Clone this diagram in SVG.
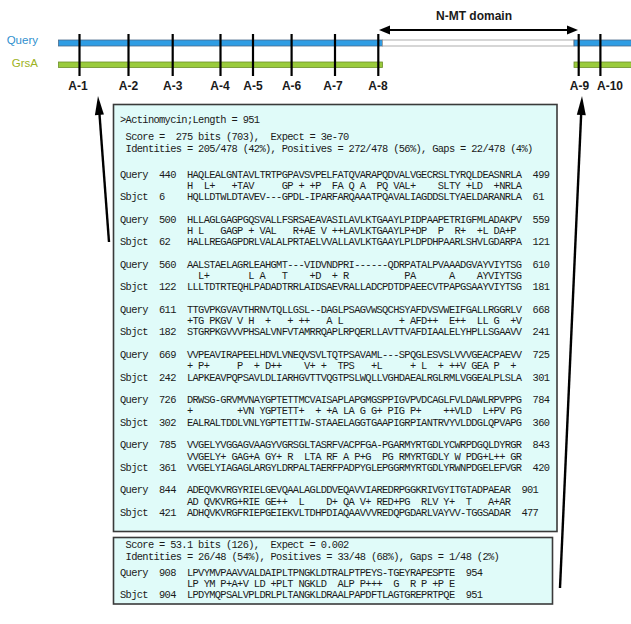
<svg xmlns="http://www.w3.org/2000/svg" width="631" height="624" viewBox="0 0 631 624">
<style>
.mono{font-family:"Liberation Mono","DejaVu Sans Mono",monospace;font-size:10.4px;letter-spacing:-0.66px;fill:#1a1a1a;white-space:pre}
.lbl{font-family:"Liberation Sans",Arial,sans-serif;font-weight:bold;font-size:12px;fill:#1a1a1a;text-anchor:middle}
.tick{stroke:#000;stroke-width:2.2}
.box{fill:#e0fbf9;stroke:#3a3a3a;stroke-width:1.6}
.arr{stroke:#000;stroke-width:2.4;fill:none}
.head{fill:#000}
</style>
<rect width="631" height="624" fill="#fff"/>
<g id="tracks">
  <text x="474" y="20" class="lbl">N-MT domain</text>
  <line x1="386" y1="30" x2="571" y2="30" stroke="#000" stroke-width="2"/>
  <polygon class="head" points="379,30 390,25.5 390,34.5"/>
  <polygon class="head" points="578,30 567,25.5 567,34.5"/>
  <text x="38" y="44" font-family="Liberation Sans,Arial,sans-serif" font-size="11.5" fill="#2f8fce" text-anchor="end">Query</text>
  <text x="38" y="67" font-family="Liberation Sans,Arial,sans-serif" font-size="11.5" fill="#9db322" text-anchor="end">GrsA</text>
  <rect x="58.5" y="40" width="324" height="6" fill="#2f9de4" stroke="#4a6a8a" stroke-width="0.8"/>
  <rect x="382.5" y="40" width="191.5" height="6" fill="#fff" stroke="#999" stroke-width="0.8"/>
  <rect x="574" y="40" width="60" height="6" fill="#2f9de4" stroke="#4a6a8a" stroke-width="0.8"/>
  <rect x="58.5" y="62" width="324" height="5.5" fill="#9acb3c" stroke="#6d8f2a" stroke-width="0.8"/>
  <rect x="574" y="62" width="60" height="5.5" fill="#9acb3c" stroke="#6d8f2a" stroke-width="0.8"/>
  <line class="tick" x1="79.5" y1="34" x2="79.5" y2="76"/>
  <line class="tick" x1="128.5" y1="34" x2="128.5" y2="76"/>
  <line class="tick" x1="172.7" y1="34" x2="172.7" y2="76"/>
  <line class="tick" x1="220.5" y1="34" x2="220.5" y2="76"/>
  <line class="tick" x1="253" y1="34" x2="253" y2="76"/>
  <line class="tick" x1="291.6" y1="34" x2="291.6" y2="76"/>
  <line class="tick" x1="335" y1="34" x2="335" y2="76"/>
  <line class="tick" x1="378.3" y1="34" x2="378.3" y2="76"/>
  <line class="tick" x1="578.7" y1="34" x2="578.7" y2="76"/>
  <line class="tick" x1="600.4" y1="34" x2="600.4" y2="76"/>
  <text x="78" y="89.5" class="lbl">A-1</text>
  <text x="128.5" y="89.5" class="lbl">A-2</text>
  <text x="172.7" y="89.5" class="lbl">A-3</text>
  <text x="220" y="89.5" class="lbl">A-4</text>
  <text x="253" y="89.5" class="lbl">A-5</text>
  <text x="291.6" y="89.5" class="lbl">A-6</text>
  <text x="333" y="89.5" class="lbl">A-7</text>
  <text x="378" y="89.5" class="lbl">A-8</text>
  <text x="579.5" y="89.5" class="lbl">A-9</text>
  <text x="610" y="89.5" class="lbl">A-10</text>
</g>
<g id="box-main">
  <rect class="box" x="113.5" y="104.5" width="443.5" height="427"/>
  <text class="mono" x="120" y="122.5" xml:space="preserve">&gt;Actinomycin;Length = 951</text>
  <text class="mono" x="120" y="140.3" xml:space="preserve"> Score =  275 bits (703),  Expect = 3e-70</text>
  <text class="mono" x="120" y="151.8" xml:space="preserve"> Identities = 205/478 (42%), Positives = 272/478 (56%), Gaps = 22/478 (4%)</text>
  <text class="mono" x="120" y="177.6" xml:space="preserve">Query  440  HAQLEALGNTAVLTRTPGPAVSVPELFATQVARAPQDVALVGECRSLTYRQLDEASNRLA  499</text>
  <text class="mono" x="120" y="188.9" xml:space="preserve">            H  L+   +TAV     GP + +P  FA Q A  PQ VAL+    SLTY +LD  +NRLA</text>
  <text class="mono" x="120" y="200.1" xml:space="preserve">Sbjct  6    HQLLDTWLDTAVEV---GPDL-IPARFARQAAATPQAVALIAGDDSLTYAELDARANRLA  61</text>
  <text class="mono" x="120" y="222.7" xml:space="preserve">Query  500  HLLAGLGAGPGQSVALLFSRSAEAVASILAVLKTGAAYLPIDPAAPETRIGFMLADAKPV  559</text>
  <text class="mono" x="120" y="234" xml:space="preserve">            H L   GAGP + VAL   R+AE V ++LAVLKTGAAYLP+DP  P  R+  +L DA+P</text>
  <text class="mono" x="120" y="245.2" xml:space="preserve">Sbjct  62   HALLREGAGPDRLVALALPRTAELVVALLAVLKTGAAYLPLDPDHPAARLSHVLGDARPA  121</text>
  <text class="mono" x="120" y="267.8" xml:space="preserve">Query  560  AALSTAELAGRLEAHGMT---VIDVNDPRI------QDRPATALPVAAADGVAYVIYTSG  610</text>
  <text class="mono" x="120" y="279.1" xml:space="preserve">              L+       L A   T    +D  + R          PA      A    AYVIYTSG</text>
  <text class="mono" x="120" y="290.3" xml:space="preserve">Sbjct  122  LLLTDTRTEQHLPADADTRRLAIDSAEVRALLADCPDTDPAEECVTPAPGSAAYVIYTSG  181</text>
  <text class="mono" x="120" y="312.9" xml:space="preserve">Query  611  TTGVPKGVAVTHRNVTQLLGSL--DAGLPSAGVWSQCHSYAFDVSVWEIFGALLRGGRLV  668</text>
  <text class="mono" x="120" y="324.2" xml:space="preserve">            +TG PKGV V H  +   + ++   A L          + AFD++  E++  LL G  +V</text>
  <text class="mono" x="120" y="335.4" xml:space="preserve">Sbjct  182  STGRPKGVVVPHSALVNFVTAMRRQAPLRPQERLLAVTTVAFDIAALELYHPLLSGAAVV  241</text>
  <text class="mono" x="120" y="358" xml:space="preserve">Query  669  VVPEAVIRAPEELHDVLVNEQVSVLTQTPSAVAML---SPQGLESVSLVVVGEACPAEVV  725</text>
  <text class="mono" x="120" y="369.3" xml:space="preserve">            + P+     P  + D++    V+ +  TPS   +L     + L  + ++V GEA P  +</text>
  <text class="mono" x="120" y="380.5" xml:space="preserve">Sbjct  242  LAPKEAVPQPSAVLDLIARHGVTTVQGTPSLWQLLVGHDAEALRGLRMLVGGEALPLSLA  301</text>
  <text class="mono" x="120" y="403.1" xml:space="preserve">Query  726  DRWSG-GRVMVNAYGPTETTMCVAISAPLAPGMGSPPIGVPVDCAGLFVLDAWLRPVPPG  784</text>
  <text class="mono" x="120" y="414.4" xml:space="preserve">            +        +VN YGPTETT+  + +A LA G G+ PIG P+    ++VLD  L+PV PG</text>
  <text class="mono" x="120" y="425.6" xml:space="preserve">Sbjct  302  EALRALTDDLVNLYGPTETTIW-STAAELAGGTGAAPIGRPIANTRVYVLDDGLQPVAPG  360</text>
  <text class="mono" x="120" y="448.2" xml:space="preserve">Query  785  VVGELYVGGAGVAAGYVGRSGLTASRFVACPFGA-PGARMYRTGDLYCWRPDGQLDYRGR  843</text>
  <text class="mono" x="120" y="459.5" xml:space="preserve">            VVGELY+ GAG+A GY+ R  LTA RF A P+G  PG RMYRTGDLY W PDG+L++ GR</text>
  <text class="mono" x="120" y="470.7" xml:space="preserve">Sbjct  361  VVGELYIAGAGLARGYLDRPALTAERFPADPYGLEPGGRMYRTGDLYRWNPDGELEFVGR  420</text>
  <text class="mono" x="120" y="493.3" xml:space="preserve">Query  844  ADEQVKVRGYRIELGEVQAALAGLDDVEQAVVIAREDRPGGKRIVGYITGTADPAEAR  901</text>
  <text class="mono" x="120" y="504.6" xml:space="preserve">            AD QVKVRG+RIE GE++  L    D+ QA V+ RED+PG  RLV Y+  T   A+AR</text>
  <text class="mono" x="120" y="515.8" xml:space="preserve">Sbjct  421  ADHQVKVRGFRIEPGEIEKVLTDHPDIAQAAVVVREDQPGDARLVAYVV-TGGSADAR  477</text>
</g>
<g id="box-second">
  <rect class="box" x="113.5" y="537.5" width="439" height="66.5"/>
  <text class="mono" x="120" y="548" xml:space="preserve"> Score = 53.1 bits (126),  Expect = 0.002</text>
  <text class="mono" x="120" y="559.5" xml:space="preserve"> Identities = 26/48 (54%), Positives = 33/48 (68%), Gaps = 1/48 (2%)</text>
  <text class="mono" x="120" y="576" xml:space="preserve">Query  908  LPVYMVPAAVVALDAIPLTPNGKLDTRALPTPEYS-TGEYRAPESPTE  954</text>
  <text class="mono" x="120" y="587" xml:space="preserve">            LP YM P+A+V LD +PLT NGKLD  ALP P+++  G  R P +P E</text>
  <text class="mono" x="120" y="597.8" xml:space="preserve">Sbjct  904  LPDYMQPSALVPLDRLPLTANGKLDRAALPAPDFTLAGTGREPRTPQE  951</text>
</g>
<g id="connectors">
  <line class="arr" x1="109" y1="242" x2="99.4" y2="113"/>
  <polygon class="head" points="98,96 103.9,114.6 94.9,115.3"/>
  <line class="arr" x1="560" y1="588" x2="581.2" y2="113"/>
  <polygon class="head" points="582,96 585.8,115.2 576.8,114.8"/>
</g>
</svg>
